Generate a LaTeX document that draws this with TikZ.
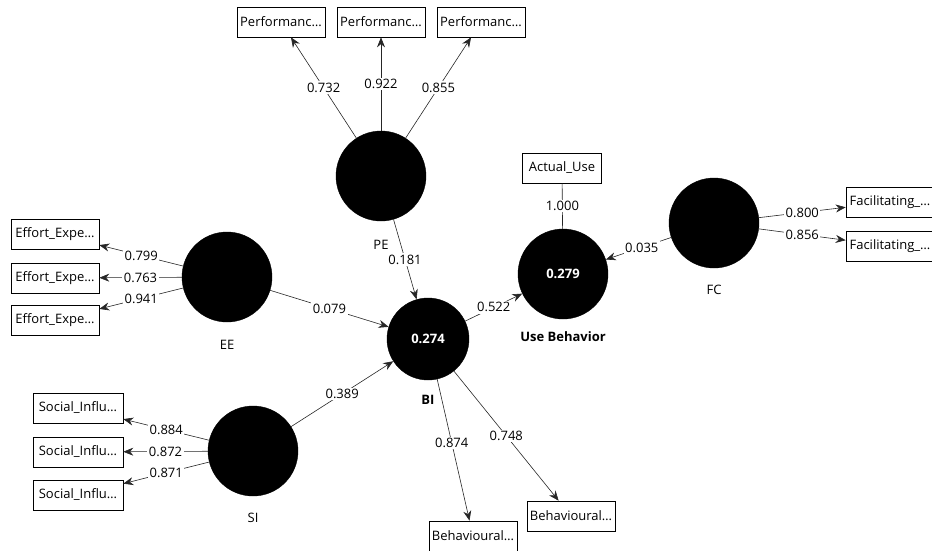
\documentclass[tikz,border=0pt]{standalone}
\usepackage{fontspec}
\setmainfont{Open Sans}
\usetikzlibrary{arrows.meta}

\newcommand{\modelfont}{\fontsize{13}{15}\selectfont}

\begin{document}
\begin{tikzpicture}[x=1pt, y=-1pt, font=\modelfont,
		latent/.style={circle, fill=black, draw=black, minimum size=90pt, inner sep=0pt, text=white, font=\modelfont\bfseries},
		item/.style={draw=black, line width=0.6pt, fill=white, minimum width=88pt, minimum height=30pt, inner sep=0pt},
		coef/.style={fill=white, inner sep=1.5pt},
		load/.style={line width=0.6pt, draw=black!85, -{Stealth[length=10pt, width=8pt]}}]
	\useasboundingbox (0,0) rectangle (932,550);
	% latent variables
	\node (pe) at (381,176) [latent] {};
	\node (ee) at (227,277) [latent] {};
	\node (si) at (253,451) [latent] {};
	\node (bi) at (428,339) [latent, minimum size=82pt] {0.274};
	\node (ub) at (563,274) [latent] {0.279};
	\node (fc) at (714,223) [latent] {};
	\node (pename) at (381,245) {PE};
	\node (eename) at (227,345) {EE};
	\node (siname) at (253,518) {SI};
	\node (biname) at (428,400) [font=\modelfont\bfseries] {BI};
	\node (ubname) at (563,337) [font=\modelfont\bfseries] {Use Behavior};
	\node (fcname) at (714,290) {FC};
	% indicators
	\node (pe1) at (281,22) [item] {Performanc…};
	\node (pe2) at (381,22) [item] {Performanc…};
	\node (pe3) at (481,22) [item] {Performanc…};
	\node (ee1) at (55,234) [item] {Effort\_Expe…};
	\node (ee2) at (55,278) [item] {Effort\_Expe…};
	\node (ee3) at (55,320) [item] {Effort\_Expe…};
	\node (si1) at (78,408) [item, minimum width=90pt] {Social\_Influ…};
	\node (si2) at (78,452) [item, minimum width=90pt] {Social\_Influ…};
	\node (si3) at (78,495) [item, minimum width=90pt] {Social\_Influ…};
	\node (bi1) at (473,536) [item] {Behavioural…};
	\node (bi2) at (571,516) [item] {Behavioural…};
	\node (ub1) at (562,168) [item, minimum width=79pt] {Actual\_Use};
	\node (fc1) at (890,202) [item] {Facilitating\_…};
	\node (fc2) at (890,246) [item] {Facilitating\_…};
	% outer loadings
	\draw[load] (pe) -- node[coef] {0.732} (pe1);
	\draw[load] (pe) -- node[coef] {0.922} (pe2);
	\draw[load] (pe) -- node[coef] {0.855} (pe3);
	\draw[load] (ee) -- node[coef] {0.799} (ee1);
	\draw[load] (ee) -- node[coef] {0.763} (ee2);
	\draw[load] (ee) -- node[coef] {0.941} (ee3);
	\draw[load] (si) -- node[coef] {0.884} (si1);
	\draw[load] (si) -- node[coef] {0.872} (si2);
	\draw[load] (si) -- node[coef] {0.871} (si3);
	\draw[load] (bi) -- node[coef, pos=0.45] {0.874} (bi1);
	\draw[load] (bi) -- node[coef] {0.748} (bi2);
	\draw[load, -] (ub) -- node[coef] {1.000} (ub1);
	\draw[load] (fc) -- node[coef] {0.800} (fc1);
	\draw[load] (fc) -- node[coef] {0.856} (fc2);
	% path coefficients
	\draw[load] (pe) -- node[coef] {0.181} (bi);
	\draw[load] (ee) -- node[coef] {0.079} (bi);
	\draw[load] (si) -- node[coef] {0.389} (bi);
	\draw[load] (bi) -- node[coef] {0.522} (ub);
	\draw[load] (fc) -- node[coef, pos=0.45] {0.035} (ub);
\end{tikzpicture}
\end{document}
